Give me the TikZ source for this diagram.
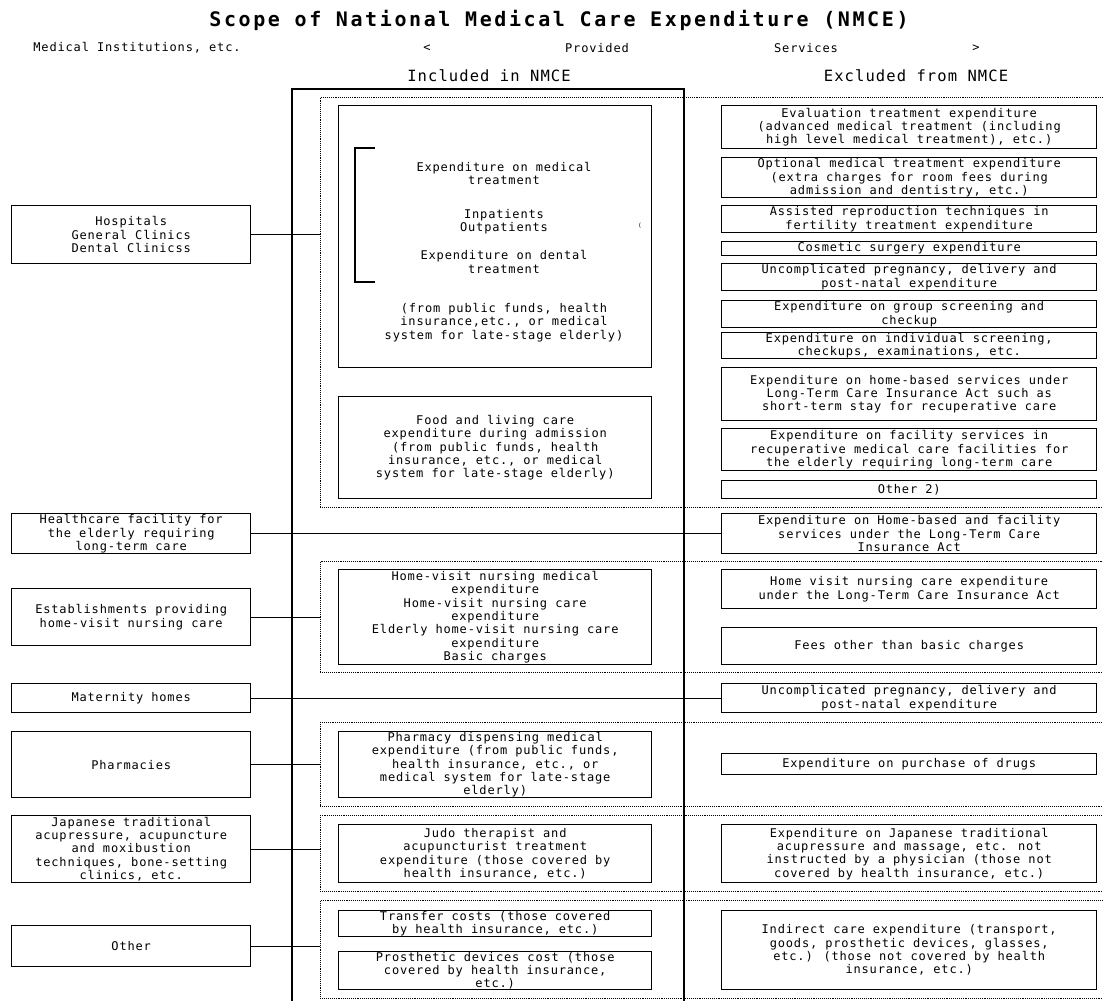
\documentclass[tikz,border=0pt]{standalone}
\usepackage{fontspec}
\usepackage{tikz}
\newfontfamily\gothic[LetterSpace=7]{DejaVu Sans Mono}
\newfontfamily\gothicwide[LetterSpace=13]{DejaVu Sans Mono}
\newcommand{\txt}{\gothic\fontsize{12}{13.3}\selectfont}

\tikzset{
  frm/.style={draw, line width=1.4pt, anchor=north west, inner sep=0pt, align=center, font=\txt},
  lbox/.style={frm, minimum width=239pt, minimum height=#1},
  mbox/.style={frm, minimum width=313pt, minimum height=#1},
  rbox/.style={frm, minimum width=375pt, minimum height=#1},
  grp/.style={draw, densely dotted, line width=0.9pt, anchor=north west, minimum width=800pt, minimum height=#1},
  lbl/.style={font=\txt, align=center},
  head/.style={font=\gothic\fontsize{15.5}{18}\selectfont},
  link/.style={line width=1.2pt}
}

\begin{document}
\begin{tikzpicture}[x=1pt, y=-1pt]
      \useasboundingbox (0,0) rectangle (1103,1001);

      \node[font=\gothicwide\bfseries\fontsize{20}{24}\selectfont] (title) at (559,20) {Scope of National Medical Care Expenditure (NMCE)};
      \node[lbl] (inst) at (137,48) {Medical Institutions, etc.};
      \node[lbl] (lt) at (427,48) {<};
      \node[lbl] (prov) at (597,48) {Provided};
      \node[lbl] (serv) at (806,48) {Services};
      \node[lbl] (gt) at (976,48) {>};
      \node[head] (inhead) at (489,76) {Included in NMCE};
      \node[head] (exhead) at (916,76) {Excluded from NMCE};

      \node[grp=410pt] (g1) at (320,97) {};
      \node[grp=111pt] (g2) at (320,561) {};
      \node[grp=84pt] (g3) at (320,722) {};
      \node[grp=76pt] (g4) at (320,815) {};
      \node[grp=98pt] (g5) at (320,900) {};
      \node[draw, line width=2.2pt, anchor=north west, minimum width=392pt, minimum height=940pt] (nmce) at (291,88) {};

      \node[lbox=58pt] (hosp) at (11,205) {Hospitals\\General Clinics\\Dental Clinicss};
      \node[lbox=40pt] (hcf) at (11,513) {Healthcare facility for\\the elderly requiring\\long-term care};
      \node[lbox=57pt] (est) at (11,588) {Establishments providing\\home-visit nursing care};
      \node[lbox=29pt] (mat) at (11,683) {Maternity homes};
      \node[lbox=66pt] (phar) at (11,731) {Pharmacies};
      \node[lbox=67pt] (jap) at (11,815) {Japanese traditional\\acupressure, acupuncture\\and moxibustion\\techniques, bone-setting\\clinics, etc.};
      \node[lbox=41pt] (oth) at (11,925) {Other};

      \node[mbox=262pt] (med) at (338,105) {};
      \node[lbl] (medtxt) at (504,252) {Expenditure on medical\\treatment\\[20pt]Inpatients\\Outpatients\\[15pt]Expenditure on dental\\treatment\\[26pt](from public funds, health\\insurance,etc., or medical\\system for late-stage elderly)};
      \draw[line width=1.4pt] (375,148) -- (355,148) -- (355,282) -- (375,282);
      \node[font=\gothic\fontsize{6}{6}\selectfont, inner sep=0pt] (mark) at (640,226) {(};
      \node[mbox=102pt] (food) at (338,396) {Food and living care\\expenditure during admission\\(from public funds, health\\insurance, etc., or medical\\system for late-stage elderly)};
      \node[mbox=95pt] (hv) at (338,569) {Home-visit nursing medical\\expenditure\\Home-visit nursing care\\expenditure\\Elderly home-visit nursing care\\expenditure\\Basic charges};
      \node[mbox=66pt] (pd) at (338,731) {Pharmacy dispensing medical\\expenditure (from public funds,\\health insurance, etc., or\\medical system for late-stage\\elderly)};
      \node[mbox=58pt] (judo) at (338,824) {Judo therapist and\\acupuncturist treatment\\expenditure (those covered by\\health insurance, etc.)};
      \node[mbox=26pt] (tr) at (338,910) {Transfer costs (those covered\\by health insurance, etc.)};
      \node[mbox=38pt] (pros) at (338,951) {Prosthetic devices cost (those\\covered by health insurance,\\etc.)};

      \node[rbox=43pt] (ev) at (721,105) {Evaluation treatment expenditure\\(advanced medical treatment (including\\high level medical treatment), etc.)};
      \node[rbox=40pt] (opt) at (721,157) {Optional medical treatment expenditure\\(extra charges for room fees during\\admission and dentistry, etc.)};
      \node[rbox=27pt] (art) at (721,205) {Assisted reproduction techniques in\\fertility treatment expenditure};
      \node[rbox=14pt] (cos) at (721,241) {Cosmetic surgery expenditure};
      \node[rbox=27pt] (unc) at (721,263) {Uncomplicated pregnancy, delivery and\\post-natal expenditure};
      \node[rbox=27pt] (grpsc) at (721,300) {Expenditure on group screening and\\checkup};
      \node[rbox=26pt] (ind) at (721,332) {Expenditure on individual screening,\\checkups, examinations, etc.};
      \node[rbox=53pt] (hb) at (721,367) {Expenditure on home-based services under\\Long-Term Care Insurance Act such as\\short-term stay for recuperative care};
      \node[rbox=42pt] (fac) at (721,428) {Expenditure on facility services in\\recuperative medical care facilities for\\the elderly requiring long-term care};
      \node[rbox=18pt] (oth2) at (721,480) {Other 2)};
      \node[rbox=40pt] (hbf) at (721,513) {Expenditure on Home-based and facility\\services under the Long-Term Care\\Insurance Act};
      \node[rbox=39pt] (hvn) at (721,569) {Home visit nursing care expenditure\\under the Long-Term Care Insurance Act};
      \node[rbox=37pt] (fee) at (721,627) {Fees other than basic charges};
      \node[rbox=29pt] (unc2) at (721,683) {Uncomplicated pregnancy, delivery and\\post-natal expenditure};
      \node[rbox=21pt] (drug) at (721,753) {Expenditure on purchase of drugs};
      \node[rbox=58pt] (jexp) at (721,824) {Expenditure on Japanese traditional\\acupressure and massage, etc. not\\instructed by a physician (those not\\covered by health insurance, etc.)};
      \node[rbox=79pt] (indir) at (721,910) {Indirect care expenditure (transport,\\goods, prosthetic devices, glasses,\\etc.) (those not covered by health\\insurance, etc.)};

      \draw[link] (hosp.east) -- (hosp.east -| g1.west);
      \draw[link] (hcf) -- (hbf);
      \draw[link] (est.east) -- (est.east -| g2.west);
      \draw[link] (mat) -- (unc2);
      \draw[link] (phar.east) -- (phar.east -| g3.west);
      \draw[link] (jap.east) -- (jap.east -| g4.west);
      \draw[link] (oth.east) -- (oth.east -| g5.west);
    \end{tikzpicture}
\end{document}
